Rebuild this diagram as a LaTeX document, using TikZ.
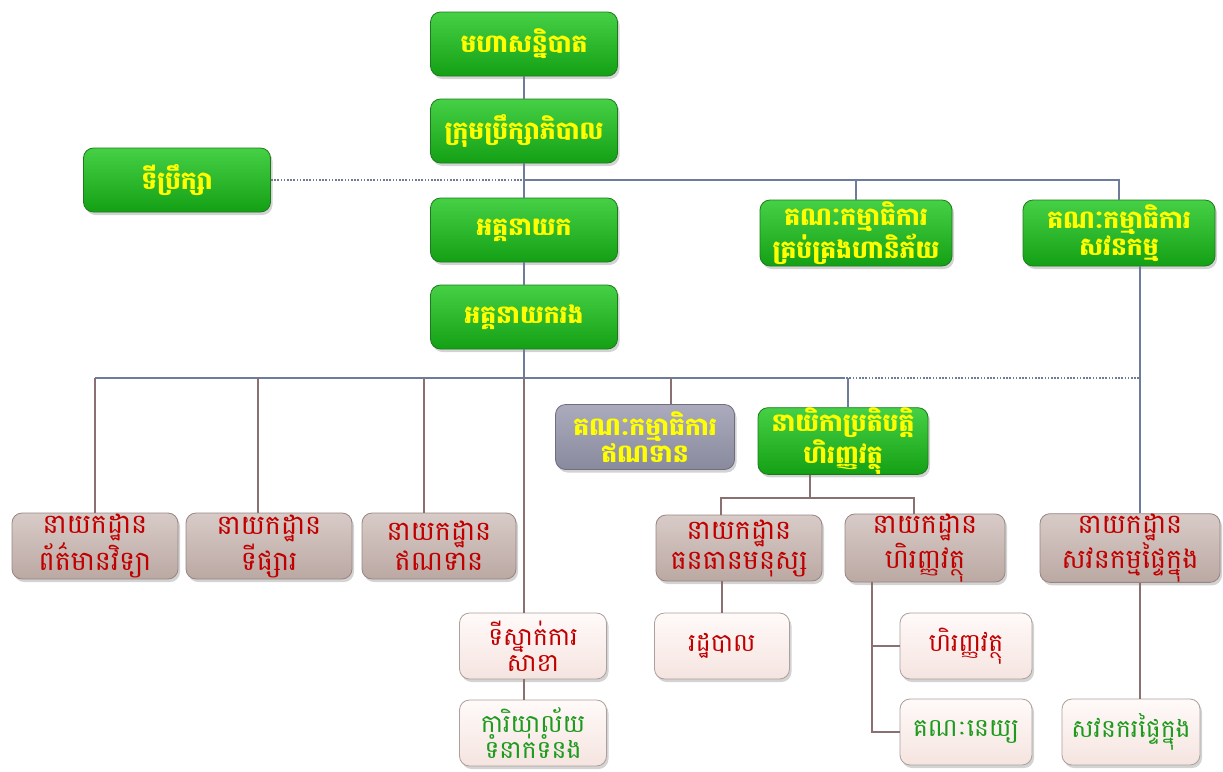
\documentclass[tikz,border=0pt]{standalone}
\usepackage{fontspec}
\newfontfamily\khmer[Script=Khmer]{Battambang}
\usetikzlibrary{positioning, shadows}
\definecolor{GreenA}{HTML}{46D046}
\definecolor{GreenB}{HTML}{14A014}
\definecolor{GreenD}{HTML}{1C7A1C}
\definecolor{YellowT}{HTML}{FFFF00}
\definecolor{GrayA}{HTML}{ABABBD}
\definecolor{GrayB}{HTML}{8A8A9E}
\definecolor{RoseA}{HTML}{D8CBC7}
\definecolor{RoseB}{HTML}{BBA8A3}
\definecolor{PinkA}{HTML}{FFFAF9}
\definecolor{PinkB}{HTML}{F5E4E0}
\definecolor{RedT}{HTML}{C00000}
\definecolor{GreenT}{HTML}{1E9A1E}
\definecolor{LineB}{HTML}{6E7C9C}
\definecolor{LineR}{HTML}{8A7070}
\tikzset{
  box/.style={draw, rounded corners=5pt, align=center, inner sep=0pt,
    drop shadow={opacity=0.35, shadow xshift=1pt, shadow yshift=-1.5pt}},
  lead/.style={box, top color=GreenA, bottom color=GreenB, draw=GreenD, text=YellowT,
    font=\khmer\bfseries\fontsize{12.5}{13.5}\selectfont},
  gray/.style={box, top color=GrayA, bottom color=GrayB, draw=GrayB!80!black, text=YellowT,
    font=\khmer\bfseries\fontsize{12.5}{13.5}\selectfont},
  dept/.style={box, top color=RoseA, bottom color=RoseB, draw=RoseB!80!black, text=RedT,
    font=\khmer\fontsize{13.5}{15}\selectfont, minimum height=33pt},
  unit/.style={box, top color=PinkA, bottom color=PinkB, draw=PinkB!70!black, text=RedT,
    font=\khmer\fontsize{12.5}{13}\selectfont, minimum height=33pt},
  unitg/.style={unit, text=GreenT},
  lnb/.style={draw=LineB, line width=0.8pt},
  lnr/.style={draw=LineR, line width=0.8pt},
  dots/.style={draw=LineB, line width=1.4pt, dash pattern=on 0.8pt off 0.8pt}
}
\begin{document}
\begin{tikzpicture}[x=0.5pt, y=-0.5pt]
  \useasboundingbox (0,0) rectangle (1223,772);

  % top of the chart
  \node[lead, minimum width=93.5pt, minimum height=32pt] (gm) at (524,44) {មហាសន្និបាត};
  \node[lead, minimum width=93.5pt, minimum height=32pt] (board) at (524,131) {ក្រុមប្រឹក្សាភិបាល};
  \node[lead, minimum width=93.5pt, minimum height=32pt] (adv) at (177,180) {ទីប្រឹក្សា};
  \node[lead, minimum width=93.5pt, minimum height=32pt] (ceo) at (524,230) {អគ្គនាយក};
  \node[lead, minimum width=96pt, minimum height=33pt] (risk) at (856,233) {គណៈកម្មាធិការ\\គ្រប់គ្រងហានិភ័យ};
  \node[lead, minimum width=96pt, minimum height=33pt] (audit) at (1119,233) {គណៈកម្មាធិការ\\សវនកម្ម};
  \node[lead, minimum width=93.5pt, minimum height=32pt] (dceo) at (524,317) {អគ្គនាយករង};
  \node[gray, minimum width=89.5pt, minimum height=32.5pt] (credit) at (645,437) {គណៈកម្មាធិការ\\ឥណទាន};
  \node[lead, minimum width=85pt, minimum height=31.5pt] (cfo) at (843,441) {នាយិកាប្រតិបត្តិ\\ហិរញ្ញវត្ថុ};

  % departments
  \node[dept, minimum width=83pt] (it) at (95,546) {នាយកដ្ឋាន\\ព័ត៌មានវិទ្យា};
  \node[dept, minimum width=83pt] (mkt) at (269,546) {នាយកដ្ឋាន\\ទីផ្សារ};
  \node[dept, minimum width=77pt] (loan) at (439,546) {នាយកដ្ឋាន\\ឥណទាន};
  \node[dept, minimum width=83pt] (hr) at (739,548) {នាយកដ្ឋាន\\ធនធានមនុស្ស};
  \node[dept, minimum width=80pt] (fin) at (925,548) {នាយកដ្ឋាន\\ហិរញ្ញវត្ថុ};
  \node[dept, minimum width=90pt] (ia) at (1130,548) {នាយកដ្ឋាន\\សវនកម្មផ្ទៃក្នុង};

  % offices
  \node[unit, minimum width=73.5pt] (branch) at (533,646) {ទីស្នាក់ការ\\សាខា};
  \node[unitg, minimum width=73.5pt] (pr) at (533,733) {ការិយាល័យ\\ទំនាក់ទំនង};
  \node[unit, minimum width=67.5pt] (adm) at (722,646) {រដ្ឋបាល};
  \node[unit, minimum width=66pt] (fu) at (966,646) {ហិរញ្ញវត្ថុ};
  \node[unitg, minimum width=66pt] (acc) at (966,732) {គណៈនេយ្យ};
  \node[unitg, minimum width=69pt] (aud) at (1131,732) {សវនករផ្ទៃក្នុង};

  \coordinate (b1) at (524,180);
  \coordinate (b2) at (524,378);
  \coordinate (b3) at (1140,378);
  \coordinate (b4) at (810,498);

  \draw[lnb] (gm) -- (board);
  \draw[lnb] (board) -- (ceo);
  \draw[dots] (adv) -- (b1);
  \draw[lnb] (b1) -| (risk.north);
  \draw[lnb] (b1) -| (audit.north);
  \draw[lnb] (ceo) -- (dceo);
  \draw[lnb] (dceo) -- (b2);
  \draw[lnb] (it.north |- b2) -- (cfo.north |- b2);
  \draw[dots] (cfo.north |- b2) -- (b3);
  \draw[lnb] (b3 |- audit.south) -- (b3 |- ia.north);
  \draw[lnr] (it.north |- b2) -- (it.north);
  \draw[lnr] ([xshift=-5.5pt]mkt.north |- b2) -- ([xshift=-5.5pt]mkt.north);
  \draw[lnr] ([xshift=-7.5pt]loan.north |- b2) -- ([xshift=-7.5pt]loan.north);
  \draw[lnr] ([xshift=13pt]credit.north |- b2) -- ([xshift=13pt]credit.north);
  \draw[lnb] ([xshift=2.5pt]cfo.north |- b2) -- ([xshift=2.5pt]cfo.north);
  \draw[lnr] (b2) -- (b2 |- branch.north);
  \draw[lnr] (b2 |- branch.south) -- (b2 |- pr.north);
  \draw[lnr] (b4 |- cfo.south) -- (b4);
  \draw[lnr] (b4) -| ([xshift=-9pt]hr.north);
  \draw[lnr] (b4) -| ([xshift=-5.5pt]fin.north);
  \draw[lnr] (adm.north |- hr.south) -- (adm.north);
  \draw[lnr] ([xshift=-26.5pt]fin.south) |- (acc.west);
  \draw[lnr] ([xshift=-26.5pt]fin.south |- fu.west) -- (fu.west);
  \draw[lnr] (b3 |- ia.south) -- (b3 |- aud.north);
\end{tikzpicture}
\end{document}
